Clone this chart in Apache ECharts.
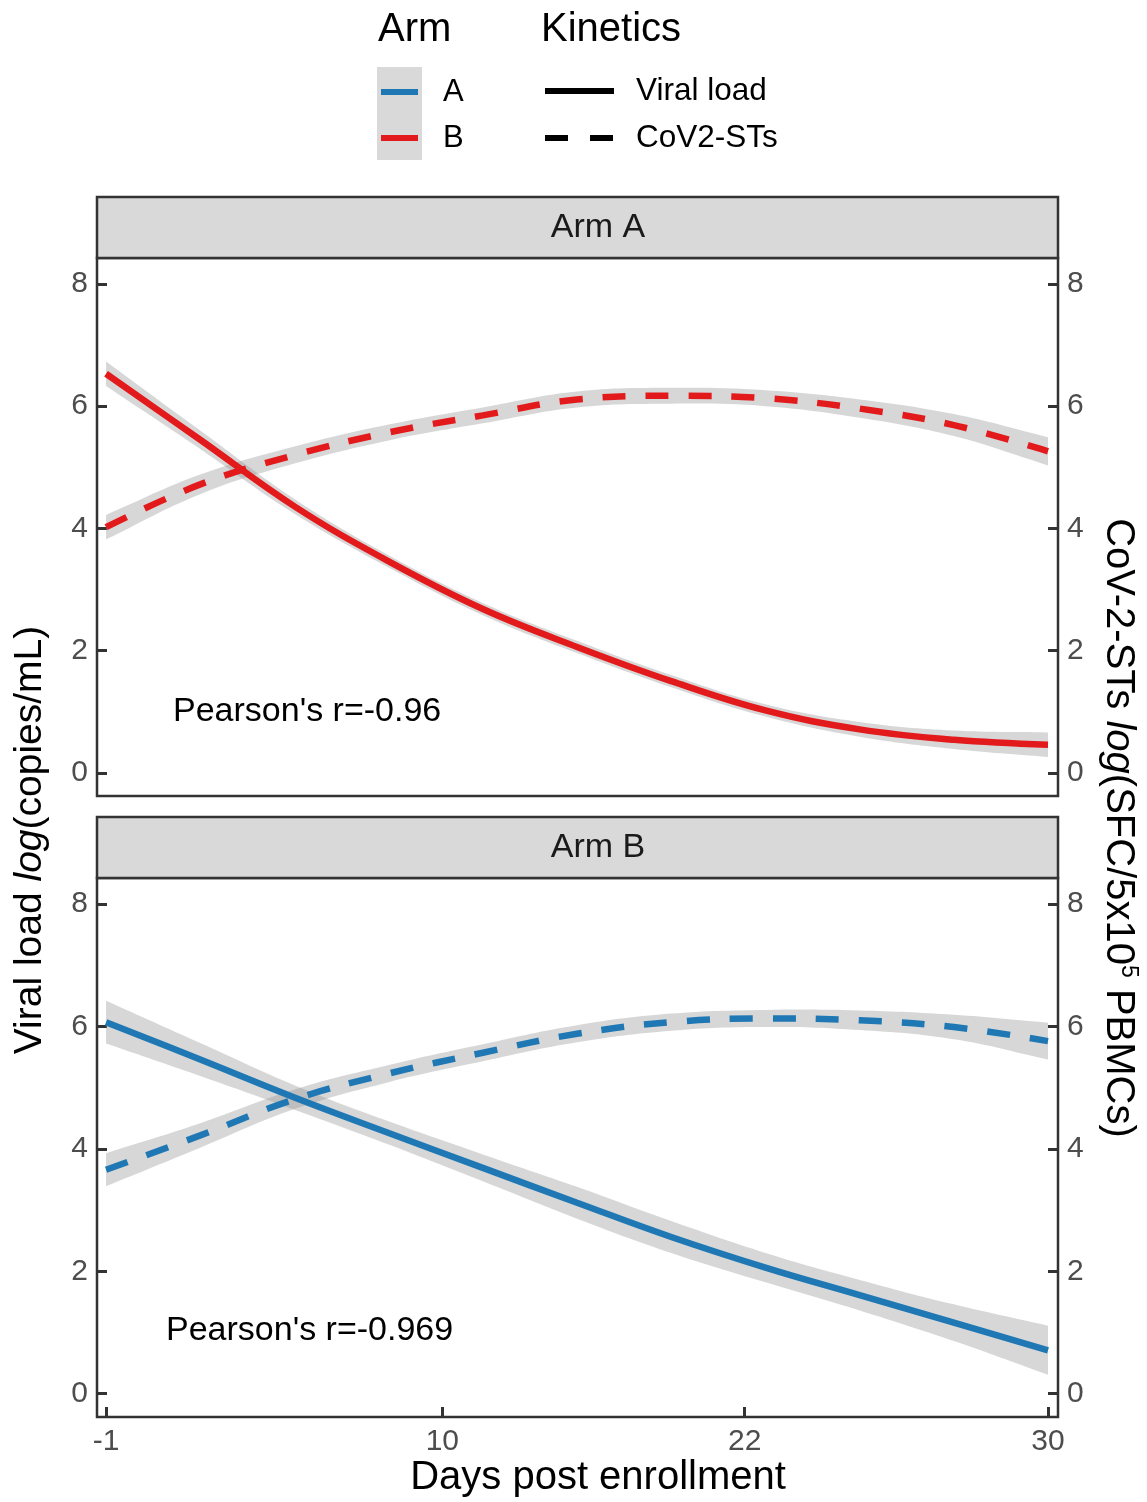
<!DOCTYPE html>
<html>
<head>
<meta charset="utf-8">
<script src="https://cdn.jsdelivr.net/npm/echarts@6/dist/echarts.min.js"></script>
<style>
  html, body { margin: 0; background: #fff; }
  #chart { width: 1147px; height: 1502px; }
</style>
</head>
<body>
<div id="chart"></div>
<script>
// x is drawn on the figure's own (non-linear) day spacing: position 0..1
const dayLabels = ['-1', '10', '22', '30']
const dayTickPos = [0, 0.357, 0.678, 1]
const samplePos = [0, 0.1, 0.2, 0.3, 0.4, 0.5, 0.6, 0.7, 0.8, 0.9, 1]
const yTicks = [0, 2, 4, 6, 8]

// panel "Arm A" (red)
const armAViral = [6.53, 5.45, 4.36, 3.46, 2.68, 2.06, 1.50, 1.02, 0.71, 0.54, 0.46]
const armAViralSe = [0.2, 0.15, 0.12, 0.1, 0.1, 0.1, 0.1, 0.1, 0.12, 0.15, 0.2]
const armASts = [4.02, 4.72, 5.20, 5.57, 5.85, 6.11, 6.17, 6.13, 5.96, 5.69, 5.26]
const armAStsSe = [0.2, 0.16, 0.14, 0.13, 0.13, 0.13, 0.13, 0.13, 0.15, 0.18, 0.23]

// panel "Arm B" (blue)
const armBViral = [6.07, 5.46, 4.84, 4.26, 3.69, 3.12, 2.56, 2.06, 1.61, 1.16, 0.71]
const armBViralSe = [0.35, 0.27, 0.2, 0.19, 0.22, 0.26, 0.26, 0.24, 0.25, 0.3, 0.4]
const armBSts = [3.66, 4.22, 4.81, 5.23, 5.57, 5.88, 6.07, 6.13, 6.10, 5.99, 5.76]
const armBStsSe = [0.27, 0.2, 0.16, 0.14, 0.14, 0.14, 0.14, 0.14, 0.16, 0.2, 0.3]

const pearson = ["Pearson's r=-0.96", "Pearson's r=-0.969"]

const RED = '#E31A1C'
const BLUE = '#1F78B4'
const RIBBON = 'rgba(150,150,150,0.38)'
const FONT = 'Liberation Sans, Arial, sans-serif'
const DASH = [23, 20]
const SMOOTH = 0.4

const chart = echarts.init(document.getElementById('chart'))

// confidence band as one polygon, points mapped through the axes
function ribbon(grid, yIdx, fit, se) {
  return {
    type: 'custom', xAxisIndex: grid, yAxisIndex: yIdx, silent: true, z: 1,
    data: samplePos.map((x, i) => [x, fit[i] - se[i], fit[i] + se[i]]),
    renderItem: function (params, api) {
      if (params.dataIndex !== 0) return null
      const upper = samplePos.map((x, i) => api.coord([x, fit[i] + se[i]]))
      const lower = samplePos.map((x, i) => api.coord([x, fit[i] - se[i]])).reverse()
      // doubled end points keep the closing edges straight
      const pts = [upper[0]].concat(upper, [upper[upper.length - 1], lower[0]], lower, [lower[lower.length - 1]])
      return {
        type: 'polygon',
        shape: { points: pts, smooth: SMOOTH },
        style: { fill: RIBBON }
      }
    }
  }
}

function fitLine(grid, yIdx, fit, color, dashed) {
  return {
    type: 'line', xAxisIndex: grid, yAxisIndex: yIdx,
    data: samplePos.map((x, i) => [x, fit[i]]),
    smooth: SMOOTH, symbol: 'none', z: 3,
    lineStyle: { color: color, width: 6.5, type: dashed ? DASH : 'solid', cap: 'butt' }
  }
}

const grids = [
  { left: 97, top: 258, width: 961, height: 538 },
  { left: 97, top: 878, width: 961, height: 539 }
].map(g => Object.assign(g, { show: true, borderColor: '#333', borderWidth: 2.5, backgroundColor: 'transparent' }))

function xAxis(gi, labels) {
  return {
    gridIndex: gi, type: 'value', min: -0.0096, max: 1.0106, position: 'bottom',
    axisLine: { show: false, onZero: false }, splitLine: { show: false },
    axisTick: { show: labels, inside: true, length: 10, lineStyle: { color: '#333', width: 3 }, customValues: dayTickPos },
    axisLabel: {
      show: labels, customValues: dayTickPos, color: '#4d4d4d', fontSize: 30, fontFamily: FONT, margin: 10,
      formatter: v => dayLabels[dayTickPos.indexOf(v)]
    }
  }
}

function yAxis(gi, pos) {
  return {
    gridIndex: gi, type: 'value', position: pos, min: -0.38, max: 8.425,
    axisLine: { show: false, onZero: false }, splitLine: { show: false },
    axisTick: { inside: true, length: 10, lineStyle: { color: '#333', width: 3 }, customValues: yTicks },
    axisLabel: { customValues: yTicks, color: '#4d4d4d', fontSize: 30, fontFamily: FONT, margin: 9 }
  }
}

const series = [
  ribbon(0, 0, armAViral, armAViralSe),
  ribbon(0, 1, armASts, armAStsSe),
  ribbon(1, 2, armBViral, armBViralSe),
  ribbon(1, 3, armBSts, armBStsSe),
  fitLine(0, 0, armAViral, RED, false),
  fitLine(0, 1, armASts, RED, true),
  fitLine(1, 2, armBViral, BLUE, false),
  fitLine(1, 3, armBSts, BLUE, true)
]

function txt(x, y, text, size, extra) {
  return {
    type: 'text', x: x, y: y, z: 10,
    style: Object.assign({ text: text, fontSize: size, fontFamily: FONT, fill: '#000', align: 'left', verticalAlign: 'middle' }, extra || {})
  }
}

function strip(top, label) {
  return [{
    type: 'rect', shape: { x: 97, y: top, width: 961, height: 61 },
    style: { fill: '#d9d9d9', stroke: '#333', lineWidth: 2.5 }, z: 5
  }, txt(598, top + 31, label, 34, { align: 'center', fill: '#1a1a1a' })]
}

function legLine(x1, x2, y, color, dash) {
  return {
    type: 'line', shape: { x1: x1, y1: y, x2: x2, y2: y }, z: 10,
    style: { stroke: color, lineWidth: 6, lineDash: dash || null }
  }
}

const graphic = [].concat(
  strip(197, 'Arm A'),
  strip(817, 'Arm B'),
  [
    txt(173, 712, pearson[0], 34),
    txt(166, 1331, pearson[1], 34),
    txt(598, 1478, 'Days post enrollment', 40, { align: 'center' }),
    {
      type: 'text', x: 30, y: 840, rotation: Math.PI / 2, z: 10,
      style: {
        text: '{n|Viral load }{i|log}{n|(copies/mL)}', align: 'center', verticalAlign: 'middle',
        rich: { n: { fontSize: 39, fontFamily: FONT, fill: '#000' }, i: { fontSize: 39, fontFamily: FONT, fontStyle: 'italic', fill: '#000' } }
      }
    },
    {
      type: 'text', x: 1118, y: 828, rotation: -Math.PI / 2, z: 10,
      style: {
        text: '{n|CoV-2-STs }{i|log}{n|(SFC/5x10}{s|5}{n| PBMCs)}', align: 'center', verticalAlign: 'middle',
        rich: {
          n: { fontSize: 40, fontFamily: FONT, fill: '#000' },
          i: { fontSize: 40, fontFamily: FONT, fontStyle: 'italic', fill: '#000' },
          s: { fontSize: 23, fontFamily: FONT, fill: '#000', verticalAlign: 'top', padding: [0, 0, 20, 0] }
        }
      }
    },
    // legend: Arm
    txt(378, 30, 'Arm', 40),
    { type: 'rect', shape: { x: 377, y: 67, width: 45, height: 93 }, style: { fill: '#d9d9d9' }, z: 9 },
    legLine(381, 418, 92, BLUE),
    legLine(381, 418, 138, RED),
    txt(443, 92, 'A', 31),
    txt(443, 138, 'B', 31),
    // legend: Kinetics
    txt(541, 30, 'Kinetics', 40),
    legLine(545, 614, 91, '#000'),
    legLine(545, 614, 138, '#000', [23, 22]),
    txt(636, 91, 'Viral load', 31.5),
    txt(636, 138, 'CoV2-STs', 31.5)
  ]
)

const option = {
  backgroundColor: '#fff',
  animation: false,
  grid: grids,
  xAxis: [xAxis(0, false), xAxis(1, true)],
  yAxis: [yAxis(0, 'left'), yAxis(0, 'right'), yAxis(1, 'left'), yAxis(1, 'right')],
  series: series,
  graphic: graphic
}
chart.setOption(option, true)
</script>
</body>
</html>
